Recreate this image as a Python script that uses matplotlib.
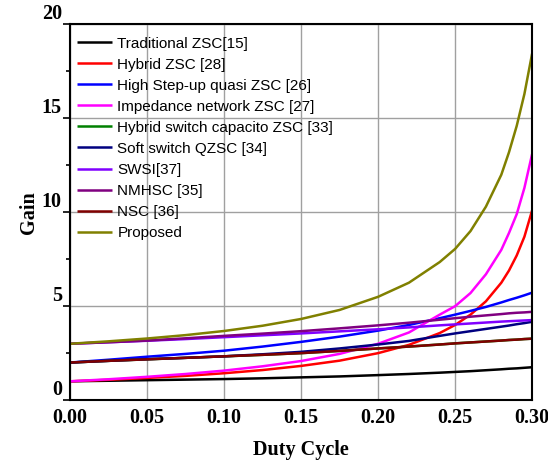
import numpy as np
import matplotlib.pyplot as plt
from matplotlib.ticker import MultipleLocator

# duty cycle samples (denser near the steep end)
duty = [0.0, 0.025, 0.05, 0.075, 0.10, 0.125, 0.15, 0.175, 0.20, 0.22,
        0.24, 0.25, 0.26, 0.27, 0.28, 0.285, 0.29, 0.295, 0.30]

traditional_zsc = [1.0, 1.03, 1.06, 1.09, 1.12, 1.16, 1.21, 1.26, 1.33, 1.39,
                   1.46, 1.50, 1.54, 1.59, 1.64, 1.67, 1.69, 1.72, 1.75]
hybrid_zsc = [1.0, 1.08, 1.18, 1.29, 1.43, 1.60, 1.82, 2.10, 2.50, 2.94,
              3.57, 4.00, 4.55, 5.26, 6.25, 6.90, 7.70, 8.70, 10.1]
high_stepup_qzsc = [2.0, 2.15, 2.31, 2.46, 2.63, 2.85, 3.10, 3.38, 3.70, 4.00,
                    4.36, 4.55, 4.75, 4.96, 5.20, 5.33, 5.45, 5.58, 5.72]
impedance_zsc = [1.0, 1.11, 1.24, 1.39, 1.57, 1.80, 2.08, 2.46, 3.00, 3.60,
                 4.55, 5.00, 5.70, 6.70, 8.00, 8.90, 9.90, 11.3, 13.1]
hybrid_sc_zsc = [2.0, 2.09, 2.17, 2.25, 2.33, 2.41, 2.50, 2.62, 2.75, 2.85,
                 2.96, 3.02, 3.07, 3.12, 3.17, 3.20, 3.22, 3.25, 3.27]
soft_switch_qzsc = [2.0, 2.09, 2.18, 2.25, 2.33, 2.44, 2.57, 2.75, 2.96, 3.15,
                    3.42, 3.55, 3.67, 3.79, 3.91, 3.97, 4.04, 4.10, 4.17]
swsi = [3.0, 3.08, 3.16, 3.25, 3.35, 3.45, 3.55, 3.66, 3.77, 3.87,
        3.98, 4.03, 4.08, 4.13, 4.18, 4.20, 4.22, 4.24, 4.26]
nmhsc = [3.0, 3.08, 3.17, 3.29, 3.42, 3.54, 3.67, 3.82, 3.98, 4.12,
         4.28, 4.36, 4.44, 4.51, 4.58, 4.62, 4.65, 4.67, 4.70]
nsc = [2.0, 2.09, 2.17, 2.25, 2.33, 2.41, 2.50, 2.62, 2.75, 2.85,
       2.96, 3.02, 3.07, 3.12, 3.17, 3.20, 3.22, 3.25, 3.27]
proposed = [3.0, 3.13, 3.28, 3.46, 3.68, 3.96, 4.32, 4.80, 5.50, 6.25,
            7.35, 8.05, 9.00, 10.3, 12.0, 13.2, 14.6, 16.3, 18.45]

series = [
    ('Traditional ZSC[15]', traditional_zsc, '#000000'),
    ('Hybrid ZSC [28]', hybrid_zsc, '#ff0000'),
    ('High Step-up quasi ZSC [26]', high_stepup_qzsc, '#0000ff'),
    ('Impedance network ZSC [27]', impedance_zsc, '#ff00ff'),
    ('Hybrid switch capacito ZSC [33]', hybrid_sc_zsc, '#008000'),
    ('Soft switch QZSC [34]', soft_switch_qzsc, '#000080'),
    ('SWSI[37]', swsi, '#8000ff'),
    ('NMHSC [35]', nmhsc, '#800080'),
    ('NSC [36]', nsc, '#800000'),
    ('Proposed', proposed, '#808000'),
]

fig = plt.figure(figsize=(5.48, 4.62), dpi=100)
ax = fig.add_axes([0.128, 0.134, 0.843, 0.813])

for name, vals, col in series:
    ax.plot(duty, vals, color=col, lw=1.8, label=name, solid_capstyle='butt')

ax.set_xlim(0, 0.30)
ax.set_ylim(0, 20)
ax.xaxis.set_major_locator(MultipleLocator(0.05))
ax.yaxis.set_major_locator(MultipleLocator(5))
ax.yaxis.set_minor_locator(MultipleLocator(2.5))
ax.grid(True, which='major', color='#a0a0a0', lw=1.0)
ax.set_axisbelow(True)

for s in ax.spines.values():
    s.set_linewidth(1.5)
    s.set_color('black')

tick_font = {'family': 'Liberation Serif', 'weight': 'bold', 'size': 14.5}
ax.set_xticks(np.arange(0, 0.301, 0.05))
ax.set_xticklabels(['%.2f' % v for v in np.arange(0, 0.301, 0.05)], fontdict=tick_font)
ax.set_yticks([0, 5, 10, 15, 20])
ax.set_yticklabels(['0', '5', '10', '15', '20'], fontdict=tick_font)
for lbl in ax.get_yticklabels():
    lbl.set_verticalalignment('bottom')
ax.tick_params(axis='x', length=0, pad=6)
ax.tick_params(axis='y', which='major', direction='out', length=5, width=1.2, pad=1)
ax.tick_params(axis='y', which='minor', direction='out', length=3, width=1.2)

ax.set_xlabel('Duty Cycle', family='Liberation Serif', weight='bold', size=14.5, labelpad=8)
ax.set_ylabel('Gain', family='Liberation Serif', weight='bold', size=14.5, labelpad=2)

ax.legend(loc='upper left', bbox_to_anchor=(-0.012, 1.0), frameon=False,
          prop={'family': 'Liberation Sans', 'size': 11},
          handlelength=2.3, handletextpad=0.35, labelspacing=0.46,
          borderaxespad=0.1, borderpad=0.7)

fig.savefig('out.png', dpi=100)
